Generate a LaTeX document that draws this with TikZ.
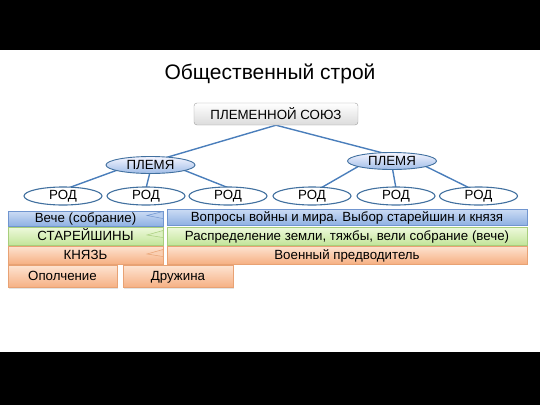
\documentclass[tikz,border=0pt]{standalone}
\usepackage{fontspec}
\setmainfont{Liberation Sans}
\usetikzlibrary{shapes.geometric,calc,backgrounds,shadows}
\definecolor{linec}{HTML}{4A7EBB}
\definecolor{ellb}{HTML}{41709F}
\definecolor{bluet}{HTML}{CCDCF4}
\definecolor{blueb}{HTML}{8FB1E3}
\definecolor{bluel}{HTML}{7095CF}
\definecolor{greent}{HTML}{EEF9DC}
\definecolor{greenb}{HTML}{C3E59A}
\definecolor{greenl}{HTML}{A8CE7C}
\definecolor{oranget}{HTML}{FDE3D1}
\definecolor{orangeb}{HTML}{F6B083}
\definecolor{orangel}{HTML}{E8A274}
\begin{document}
\begin{tikzpicture}[x=1pt,y=-1pt,
  conn/.style={draw=linec,line width=1.4pt},
  union/.style={draw=gray!75,rounded corners=3pt,top color=white,bottom color=gray!28,
     minimum width=164pt,minimum height=22pt,inner sep=0pt,font=\fontsize{13.3}{15}\selectfont},
  tribe/.style={ellipse,draw=ellb,line width=0.9pt,top color=blue!4,bottom color=blueb!85,
     minimum width=89pt,minimum height=17pt,inner sep=0pt,font=\fontsize{13.3}{15}\selectfont},
  rod/.style={ellipse,draw=ellb,line width=1.1pt,fill=white,
     minimum width=78pt,minimum height=18pt,inner sep=0pt,font=\fontsize{13.3}{15}\selectfont},
  bar/.style={rectangle,inner sep=0pt,font=\fontsize{13.3}{15}\selectfont,
     text height=9.5pt,text depth=0.8pt,
     drop shadow={opacity=0.22,shadow xshift=1pt,shadow yshift=-1pt}},
  bluebar/.style={bar,draw=bluel,top color=bluet,bottom color=blueb},
  greenbar/.style={bar,draw=greenl,top color=greent,bottom color=greenb},
  orangebar/.style={bar,draw=orangel,top color=oranget,bottom color=orangeb},
]
\useasboundingbox (0,0) rectangle (540,405);
\fill[black] (0,0) rectangle (540,50);
\fill[black] (0,352) rectangle (540,405);

\node[font=\fontsize{21}{25}\selectfont] (title) at (270,74) {Общественный строй};

\node[union] (u) at (276,114) {ПЛЕМЕННОЙ СОЮЗ};
\node[tribe] (t1) at (150.5,165) {ПЛЕМЯ};
\node[tribe] (t2) at (392,161) {ПЛЕМЯ};
\node[rod] (r1) at (63,196) {РОД};
\node[rod] (r2) at (146,196) {РОД};
\node[rod] (r3) at (228,196) {РОД};
\node[rod] (r4) at (312,196) {РОД};
\node[rod] (r5) at (396,196) {РОД};
\node[rod] (r6) at (478.5,196) {РОД};

\begin{scope}[on background layer]
\draw[conn] (u.south) -- ($(t1.north)+(14,2)$);
\draw[conn] (u.south) -- ($(t2.north)+(-5,2)$);
\draw[conn] ($(t1.center)+(-33,5)$) -- ($(r1.north)+(4,2)$);
\draw[conn] ($(t1.center)+(0,5)$) -- ($(r2.north)+(0,2)$);
\draw[conn] ($(t1.center)+(33,5)$) -- ($(r3.north)+(2,2)$);
\draw[conn] ($(t2.center)+(-33,5)$) -- ($(r4.north)+(8,2)$);
\draw[conn] ($(t2.center)+(0,5)$) -- ($(r5.north)+(0,2)$);
\draw[conn] ($(t2.center)+(33,5)$) -- ($(r6.north)+(-8,2)$);
\end{scope}

% rows
\node[bluebar,minimum width=155pt,minimum height=15pt] (veche) at (85.5,218.5) {Вече (собрание)};
\node[bluebar,minimum width=360pt,minimum height=16pt] (vecheR) at (347,217) {Вопросы войны и мира. Выбор старейшин и князя};
\node[greenbar,minimum width=155pt,minimum height=18pt] (star) at (85.5,236) {СТАРЕЙШИНЫ};
\node[greenbar,minimum width=360pt,minimum height=18pt] (starR) at (347,236) {Распределение земли, тяжбы, вели собрание (вече)};
\node[orangebar,minimum width=155pt,minimum height=18pt] (kn) at (85.5,255) {КНЯЗЬ};
\node[orangebar,minimum width=360pt,minimum height=18pt] (knR) at (347,255) {Военный предводитель};
\node[orangebar,minimum width=109pt,minimum height=22pt] (opol) at (62.5,276.5) {Ополчение};
\node[orangebar,minimum width=110pt,minimum height=22pt] (dru) at (178,276.5) {Дружина};

% callout notches
\filldraw[draw=bluel,fill=bluet!70!blueb,line width=0.5pt] (163,211.5) -- (147,215.5) -- (163,218.5) -- cycle;
\filldraw[draw=greenl,fill=greent!60!greenb,line width=0.5pt] (163,230.5) -- (147,235) -- (163,237.5) -- cycle;
\filldraw[draw=orangel,fill=oranget!60!orangeb,line width=0.5pt] (163,249.5) -- (147,254) -- (163,256.5) -- cycle;
\end{tikzpicture}
\end{document}
